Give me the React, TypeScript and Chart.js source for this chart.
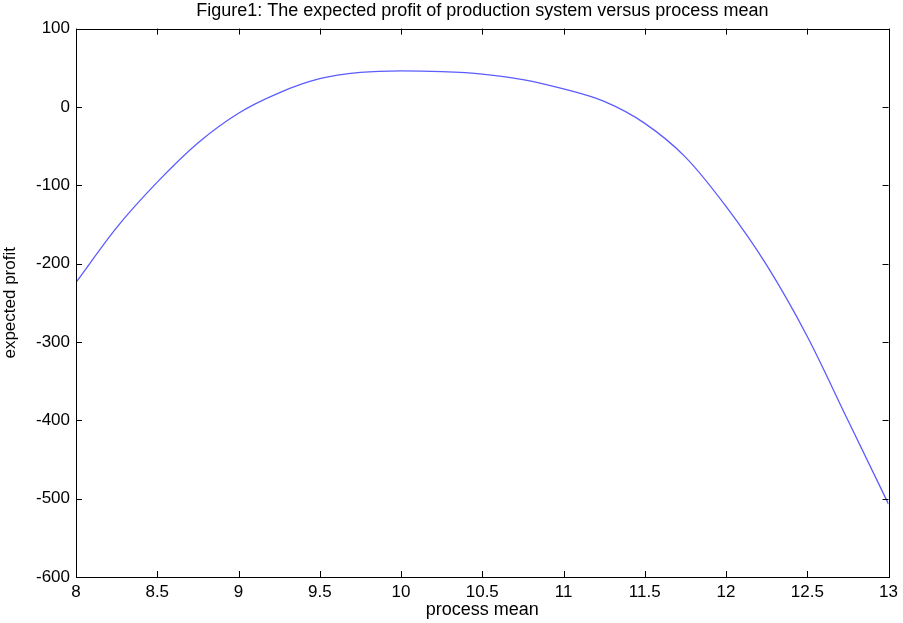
import React, { useEffect, useRef } from "react";
import { Chart, registerables } from "chart.js";

Chart.register(...registerables);

const processMean = [8, 8.25, 8.5, 8.75, 9, 9.25, 9.5, 9.75, 10, 10.25, 10.5, 10.75, 11, 11.25, 11.5, 11.75, 12, 12.25, 12.5, 12.75, 13];
const expectedProfit = [-224, -154, -96, -46, -8, 18, 36, 44, 46, 45, 42, 35, 23, 7, -21, -64, -127, -202, -293, -400, -507];
const xTicks = [8, 8.5, 9, 9.5, 10, 10.5, 11, 11.5, 12, 12.5, 13];
const yTicks = [-600, -500, -400, -300, -200, -100, 0, 100];

const FONT = "'Liberation Sans', Arial, sans-serif";

const framePlugin = {
  id: "frame",
  afterLayout(chart: any) {
    const t = chart.titleBlock;
    if (t) {
      t.left = chart.chartArea.left;
      t.right = chart.chartArea.right;
      t.width = t.right - t.left;
    }
  },
  afterDatasetsDraw(chart: any) {
    const { ctx, chartArea, scales } = chart;
    const { left, right, top, bottom } = chartArea;
    ctx.save();
    ctx.strokeStyle = "#000";
    ctx.lineWidth = 1;
    ctx.strokeRect(Math.round(left) + 0.5, Math.round(top) + 0.5, Math.round(right - left), Math.round(bottom - top));
    const t = 6;
    ctx.beginPath();
    xTicks.forEach((v) => {
      const x = Math.round(scales.x.getPixelForValue(v)) + 0.5;
      ctx.moveTo(x, bottom);
      ctx.lineTo(x, bottom - t);
      ctx.moveTo(x, top);
      ctx.lineTo(x, top + t);
    });
    yTicks.forEach((v) => {
      const y = Math.round(scales.y.getPixelForValue(v)) + 0.5;
      ctx.moveTo(left, y);
      ctx.lineTo(left + t, y);
      ctx.moveTo(right, y);
      ctx.lineTo(right - t, y);
    });
    ctx.stroke();
    ctx.restore();
  },
};

export default function App() {
  const ref = useRef<HTMLCanvasElement>(null);
  useEffect(() => {
    document.body.style.margin = "0";
    const chart = new Chart(ref.current!, {
      type: "line",
      data: {
        datasets: [
          {
            data: processMean.map((x, i) => ({ x, y: expectedProfit[i] })),
            borderColor: "#5c5cff",
            borderWidth: 1.3,
            pointRadius: 0,
            cubicInterpolationMode: "monotone",
            fill: false,
          },
        ],
      },
      options: {
        animation: false,
        responsive: false,
        maintainAspectRatio: false,
        layout: { padding: { left: 0, right: 13, top: 0, bottom: 0 } },
        plugins: {
          legend: { display: false },
          tooltip: { enabled: false },
          title: {
            display: true,
            text: "Figure1: The expected profit of production system versus process mean",
            color: "#000",
            font: { family: FONT, size: 18, weight: "normal" },
            padding: { top: 0, bottom: 7 },
          },
        },
        scales: {
          x: {
            type: "linear",
            min: 8,
            max: 13,
            afterBuildTicks: (s: any) => {
              s.ticks = xTicks.map((v) => ({ value: v }));
            },
            afterFit: (s: any) => {
              s.height = 46;
            },
            grid: { display: false, drawTicks: false },
            border: { display: false },
            ticks: {
              color: "#000",
              font: { family: FONT, size: 17 },
              padding: 5,
              maxRotation: 0,
              autoSkip: false,
              callback: (v: any) => String(v),
            },
            title: {
              display: true,
              text: "process mean",
              color: "#000",
              font: { family: FONT, size: 18 },
              padding: { top: 0, bottom: 2 },
            },
          },
          y: {
            type: "linear",
            min: -600,
            max: 100,
            afterBuildTicks: (s: any) => {
              s.ticks = yTicks.map((v) => ({ value: v }));
            },
            afterFit: (s: any) => {
              s.width = 76;
            },
            grid: { display: false, drawTicks: false },
            border: { display: false },
            ticks: {
              color: "#000",
              font: { family: FONT, size: 17 },
              padding: 6,
              autoSkip: false,
              callback: (v: any) => String(v),
            },
            title: {
              display: true,
              text: "expected profit",
              color: "#000",
              font: { family: FONT, size: 17 },
              padding: { top: 0, bottom: 0 },
            },
          },
        },
      },
      plugins: [framePlugin],
    } as any);
    return () => chart.destroy();
  }, []);
  return (
    <div style={{ position: "absolute", left: 0, top: 0, width: 903, height: 623, background: "#fff" }}>
      <canvas ref={ref} width={903} height={623} style={{ width: 903, height: 623 }} />
    </div>
  );
}
